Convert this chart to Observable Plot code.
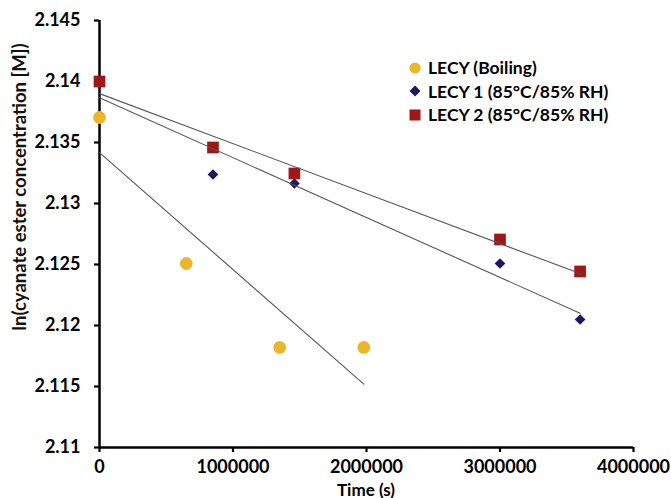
<!DOCTYPE html>
<html>
<head>
<meta charset="utf-8">
<script src="https://cdn.jsdelivr.net/npm/d3@7"></script>
<script src="https://cdn.jsdelivr.net/npm/@observablehq/plot@0.6"></script>
<style>
  html, body { margin: 0; padding: 0; background: #fff; }
  #wrap { position: relative; width: 671px; height: 498px; font-family: Lato, "Open Sans", sans-serif; }
  #legend { position: absolute; left: 406px; top: 56px; font-weight: bold; font-size: 17.5px; color: #000; }
  #legend .row { display: flex; align-items: center; height: 23.5px; }
  #legend svg { width: 18px; height: 18px; margin-right: 4px; }
  #ylabel { position: absolute; left: 19px; top: 187px; transform: translate(-50%, -50%) rotate(-90deg); white-space: nowrap; font-size: 18.5px; font-weight: bold; color: #111; }
  #xlabel { position: absolute; left: 366px; top: 489px; transform: translate(-50%, -50%); white-space: nowrap; font-size: 17px; font-weight: bold; color: #000; }
</style>
</head>
<body>
<div id="wrap"></div>
<script>
// ---- data ----
const seriesNames = ["LECY (Boiling)", "LECY 1 (85°C/85% RH)", "LECY 2 (85°C/85% RH)"];
const boilingTime = [0, 650000, 1350000, 1980000];
const boilingValue = [2.13705, 2.12508, 2.1182, 2.1182];
const lecy1Time = [0, 850000, 1460000, 3000000, 3600000];
const lecy1Value = [2.1400, 2.13238, 2.13164, 2.12508, 2.12049];
const lecy2Time = [0, 850000, 1460000, 3000000, 3600000];
const lecy2Value = [2.1400, 2.13459, 2.13246, 2.12705, 2.12443];
const xTicks = [0, 1000000, 2000000, 3000000, 4000000];
const yTicks = [2.11, 2.115, 2.12, 2.125, 2.13, 2.135, 2.14, 2.145];
const colors = ["#EBB62A", "#1B1A5C", "#A01717"];
const symbols = ["circle", "diamond2", "square"];
const radii = [6.4, 4.8, 6.6];

// ---- tables ----
const series = [
  boilingTime.map((t, i) => ({series: seriesNames[0], t, v: boilingValue[i]})),
  lecy1Time.map((t, i) => ({series: seriesNames[1], t, v: lecy1Value[i]})),
  lecy2Time.map((t, i) => ({series: seriesNames[2], t, v: lecy2Value[i]}))
];
const all = series.flat();

const font = "Lato, 'Open Sans', sans-serif";

const chart = Plot.plot({
  width: 671,
  height: 498,
  marginLeft: 99,
  marginRight: 38,
  marginTop: 20,
  marginBottom: 51,
  style: {fontFamily: font, background: "#fff", color: "#000"},
  x: {domain: [0, 4000000]},
  y: {domain: [2.11, 2.145]},
  marks: [
    Plot.axisX({ticks: xTicks, tickSize: 5, strokeWidth: 2.2, tickPadding: 8, tickFormat: d3.format("d"),
      fontSize: 18, fontWeight: "bold", label: null}),
    Plot.axisY({ticks: yTicks, tickSize: 5, strokeWidth: 2.2, tickPadding: 14, tickFormat: d => String(+d.toFixed(3)),
      fontSize: 18, fontWeight: "bold", label: null}),
    Plot.ruleX([0], {stroke: "#000", strokeWidth: 2.5}),
    Plot.ruleY([2.11], {stroke: "#000", strokeWidth: 2.5}),
    ...series.map((s, i) => Plot.dot(s, {x: "t", y: "v", symbol: () => symbols[i], r: radii[i], fill: colors[i], stroke: "none"})),
    Plot.linearRegressionY(all, {x: "t", y: "v", z: "series", stroke: "#555", strokeWidth: 1.1, ci: 0})
  ]
});

const wrap = document.getElementById("wrap");
wrap.appendChild(chart);

// legend
const legend = document.createElement("div");
legend.id = "legend";
const symPaths = {
  circle: '<circle cx="9" cy="9" r="5.6"/>',
  diamond2: '<path d="M9 3.5 L14.5 9 L9 14.5 L3.5 9 Z"/>',
  square: '<rect x="3.5" y="3.5" width="11" height="11"/>'
};
seriesNames.forEach((name, i) => {
  const row = document.createElement("div");
  row.className = "row";
  row.innerHTML = `<svg viewBox="0 0 18 18"><g fill="${colors[i]}">${symPaths[symbols[i]]}</g></svg><span>${name}</span>`;
  legend.appendChild(row);
});
wrap.appendChild(legend);

const yl = document.createElement("div");
yl.id = "ylabel";
yl.textContent = "ln(cyanate ester concentration [M])";
wrap.appendChild(yl);

const xl = document.createElement("div");
xl.id = "xlabel";
xl.textContent = "Time (s)";
wrap.appendChild(xl);
</script>
</body>
</html>
